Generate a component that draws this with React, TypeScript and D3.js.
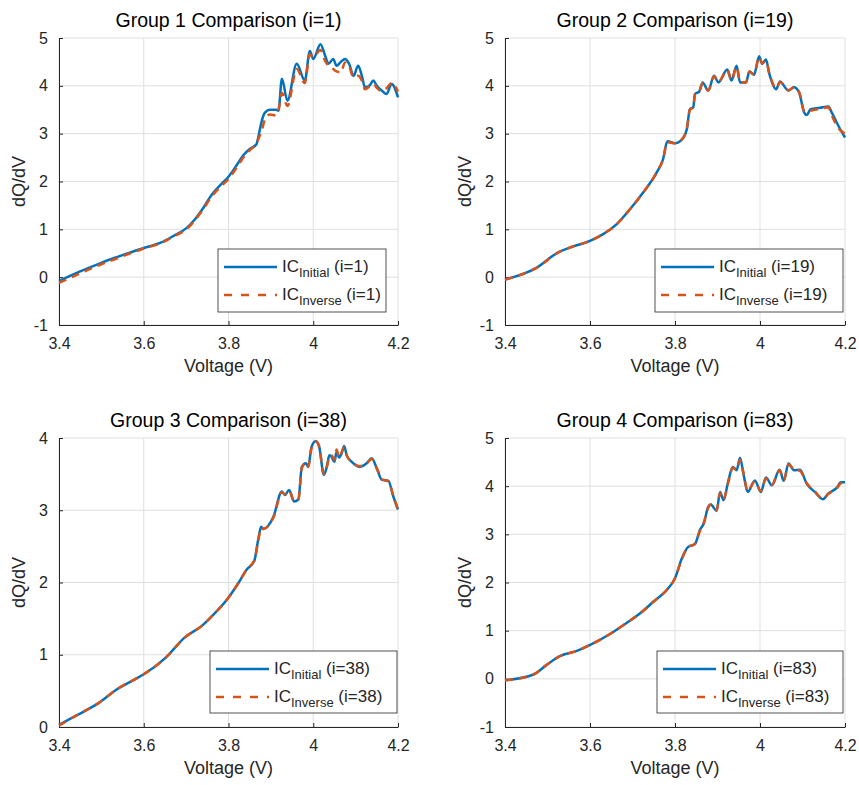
import React, { useEffect, useRef } from 'react';
import * as d3 from 'd3';

// digitised dQ/dV curves, one voltage grid per panel
const voltage1 = [3.40, 3.45, 3.50, 3.53, 3.56, 3.60, 3.64, 3.67, 3.70, 3.72, 3.74, 3.76, 3.78, 3.80, 3.82, 3.835, 3.85, 3.866, 3.872, 3.878, 3.886, 3.898, 3.912, 3.918, 3.926, 3.939, 3.961, 3.980, 3.992, 4.000, 4.017, 4.028, 4.036, 4.047, 4.055, 4.065, 4.075, 4.085, 4.095, 4.106, 4.115, 4.122, 4.132, 4.142, 4.150, 4.158, 4.173, 4.185, 4.200];
const initial1 = [-0.08, 0.12, 0.30, 0.40, 0.49, 0.61, 0.72, 0.86, 1.02, 1.20, 1.44, 1.72, 1.92, 2.10, 2.35, 2.55, 2.68, 2.78, 3.00, 3.25, 3.44, 3.50, 3.50, 3.48, 4.15, 3.69, 4.46, 4.11, 4.73, 4.56, 4.87, 4.63, 4.46, 4.56, 4.42, 4.50, 4.56, 4.45, 4.21, 4.42, 4.20, 3.97, 4.00, 4.11, 4.00, 3.93, 3.83, 4.04, 3.76];
const inverse1 = [-0.12, 0.08, 0.27, 0.37, 0.47, 0.60, 0.71, 0.85, 1.00, 1.18, 1.42, 1.68, 1.88, 2.05, 2.30, 2.50, 2.65, 2.80, 2.92, 3.05, 3.30, 3.40, 3.38, 3.50, 3.85, 3.58, 4.35, 4.06, 4.66, 4.60, 4.75, 4.52, 4.42, 4.35, 4.30, 4.28, 4.49, 4.40, 4.18, 4.21, 4.10, 3.93, 3.98, 4.04, 3.96, 3.90, 3.95, 4.06, 3.88];

const voltage2 = [3.40, 3.475, 3.525, 3.553, 3.60, 3.631, 3.663, 3.694, 3.725, 3.757, 3.772, 3.782, 3.80, 3.82, 3.828, 3.835, 3.843, 3.847, 3.857, 3.865, 3.878, 3.892, 3.902, 3.923, 3.933, 3.945, 3.953, 3.967, 3.975, 3.986, 3.998, 4.005, 4.014, 4.022, 4.038, 4.047, 4.067, 4.08, 4.092, 4.104, 4.11, 4.119, 4.141, 4.161, 4.169, 4.184, 4.20];
const initial2 = [-0.05, 0.20, 0.52, 0.62, 0.76, 0.90, 1.11, 1.42, 1.77, 2.19, 2.47, 2.84, 2.80, 2.92, 3.10, 3.51, 3.55, 3.83, 3.88, 4.07, 3.90, 4.21, 4.07, 4.34, 4.11, 4.42, 4.07, 4.07, 4.30, 4.23, 4.62, 4.46, 4.55, 4.25, 3.93, 4.09, 3.90, 3.97, 3.86, 3.44, 3.39, 3.51, 3.54, 3.57, 3.44, 3.17, 2.92];
const inverse2 = [-0.05, 0.20, 0.51, 0.62, 0.76, 0.90, 1.11, 1.42, 1.77, 2.19, 2.47, 2.82, 2.80, 2.92, 3.12, 3.50, 3.56, 3.82, 3.88, 4.05, 3.90, 4.20, 4.08, 4.33, 4.12, 4.40, 4.08, 4.07, 4.30, 4.24, 4.60, 4.47, 4.52, 4.26, 3.95, 4.08, 3.91, 3.97, 3.87, 3.47, 3.45, 3.48, 3.52, 3.55, 3.38, 3.12, 3.00];

const voltage3 = [3.40, 3.438, 3.493, 3.536, 3.579, 3.60, 3.65, 3.697, 3.737, 3.76, 3.796, 3.823, 3.843, 3.861, 3.870, 3.877, 3.882, 3.906, 3.926, 3.933, 3.943, 3.955, 3.965, 3.973, 3.983, 3.988, 3.996, 4.006, 4.014, 4.025, 4.032, 4.038, 4.043, 4.05, 4.055, 4.061, 4.067, 4.073, 4.079, 4.091, 4.11, 4.126, 4.138, 4.15, 4.162, 4.177, 4.189, 4.20];
const initial3 = [0.03, 0.15, 0.33, 0.52, 0.66, 0.73, 0.95, 1.24, 1.40, 1.53, 1.76, 1.99, 2.18, 2.30, 2.59, 2.77, 2.74, 2.91, 3.26, 3.21, 3.28, 3.12, 3.15, 3.60, 3.65, 3.60, 3.88, 3.96, 3.88, 3.49, 3.60, 3.76, 3.74, 3.67, 3.81, 3.73, 3.79, 3.89, 3.76, 3.67, 3.60, 3.65, 3.72, 3.58, 3.42, 3.41, 3.19, 3.01];
const inverse3 = [0.02, 0.15, 0.33, 0.52, 0.66, 0.73, 0.95, 1.24, 1.40, 1.53, 1.76, 1.99, 2.18, 2.31, 2.57, 2.76, 2.74, 2.90, 3.25, 3.22, 3.27, 3.13, 3.15, 3.58, 3.66, 3.60, 3.86, 3.95, 3.88, 3.50, 3.60, 3.74, 3.76, 3.70, 3.84, 3.73, 3.80, 3.87, 3.76, 3.67, 3.61, 3.65, 3.71, 3.58, 3.43, 3.40, 3.20, 3.00];

const voltage4 = [3.40, 3.467, 3.498, 3.529, 3.569, 3.604, 3.647, 3.686, 3.718, 3.749, 3.784, 3.80, 3.816, 3.831, 3.847, 3.859, 3.868, 3.878, 3.884, 3.898, 3.906, 3.914, 3.925, 3.936, 3.945, 3.953, 3.961, 3.971, 3.988, 4.002, 4.014, 4.028, 4.046, 4.056, 4.067, 4.08, 4.094, 4.11, 4.129, 4.148, 4.161, 4.181, 4.19, 4.20];
const initial4 = [-0.03, 0.09, 0.29, 0.47, 0.58, 0.72, 0.93, 1.16, 1.36, 1.60, 1.88, 2.09, 2.50, 2.74, 2.80, 3.10, 3.23, 3.57, 3.62, 3.49, 3.88, 3.71, 4.09, 4.40, 4.33, 4.59, 4.26, 3.88, 4.12, 3.88, 4.18, 4.02, 4.34, 4.11, 4.47, 4.33, 4.34, 4.05, 3.88, 3.73, 3.85, 3.97, 4.08, 4.08];
const inverse4 = [-0.03, 0.09, 0.29, 0.47, 0.58, 0.72, 0.93, 1.16, 1.36, 1.60, 1.88, 2.09, 2.48, 2.74, 2.80, 3.08, 3.25, 3.55, 3.62, 3.50, 3.86, 3.72, 4.07, 4.38, 4.34, 4.55, 4.28, 3.90, 4.10, 3.90, 4.16, 4.03, 4.33, 4.13, 4.45, 4.35, 4.32, 4.06, 3.89, 3.74, 3.84, 3.96, 4.06, 4.08];

const groupIndex = [1, 19, 38, 83];
const xTicks = [3.4, 3.6, 3.8, 4.0, 4.2];
const yTicksWide = [-1, 0, 1, 2, 3, 4, 5];
const yTicksNarrow = [0, 1, 2, 3, 4];

const FONT = "'Liberation Sans', Arial, Helvetica, sans-serif";
const BLUE = '#0072BD';
const ORANGE = '#D95319';
const AXIS = '#262626';

const panels = [
  { v: voltage1, a: initial1, b: inverse1, yTicks: yTicksWide, box: [59, 38, 398, 325], legend: [218, 249, 386, 312] },
  { v: voltage2, a: initial2, b: inverse2, yTicks: yTicksWide, box: [505, 38, 845, 325], legend: [655, 249, 843, 312] },
  { v: voltage3, a: initial3, b: inverse3, yTicks: yTicksNarrow, box: [59, 438, 398, 727], legend: [210, 651, 397, 713] },
  { v: voltage4, a: initial4, b: inverse4, yTicks: yTicksWide, box: [505, 438, 845, 727], legend: [657, 651, 843, 713] },
];

const App = () => {
  const svgRef = useRef<SVGSVGElement>(null);

  useEffect(() => {
    const svg = d3.select(svgRef.current);
    svg.selectAll('*').remove();

    panels.forEach((p, k) => {
      const [l, t, r, b] = p.box;
      const n = groupIndex[k];
      const x = d3.scaleLinear().domain([3.4, 4.2]).range([l, r]);
      const y = d3.scaleLinear().domain(d3.extent(p.yTicks) as [number, number]).range([b, t]);
      const g = svg.append('g');

      // grid
      g.append('g').selectAll('line').data(xTicks).enter().append('line')
        .attr('x1', d => x(d)).attr('x2', d => x(d)).attr('y1', t).attr('y2', b)
        .attr('stroke', '#dfdfdf').attr('stroke-width', 1);
      g.append('g').selectAll('line').data(p.yTicks).enter().append('line')
        .attr('x1', l).attr('x2', r).attr('y1', d => y(d)).attr('y2', d => y(d))
        .attr('stroke', '#dfdfdf').attr('stroke-width', 1);

      // axes (MATLAB style: inward ticks, no box)
      const xAxis = g.append('g').attr('transform', `translate(0,${b})`)
        .call(d3.axisBottom(x).tickValues(xTicks).tickSizeInner(-4).tickSizeOuter(0).tickPadding(13)
          .tickFormat(d => d3.format('')(+d)));
      const yAxis = g.append('g').attr('transform', `translate(${l},0)`)
        .call(d3.axisLeft(y).tickValues(p.yTicks).tickSizeInner(-4).tickSizeOuter(0).tickPadding(11)
          .tickFormat(d => String(d)));
      [xAxis, yAxis].forEach(ax => {
        ax.select('.domain').attr('stroke', AXIS).attr('stroke-width', 1);
        ax.selectAll('.tick line').attr('stroke', AXIS);
        ax.selectAll('.tick text').attr('fill', AXIS).attr('font-size', 16).attr('font-family', FONT);
      });

      // curves
      const line = d3.line<number>()
        .x((_, i) => x(p.v[i]))
        .y(d => y(d))
        .curve(d3.curveMonotoneX);
      g.append('path').attr('d', line(p.a)).attr('fill', 'none')
        .attr('stroke', BLUE).attr('stroke-width', 2.5).attr('stroke-linejoin', 'round');
      g.append('path').attr('d', line(p.b)).attr('fill', 'none')
        .attr('stroke', ORANGE).attr('stroke-width', 2.5).attr('stroke-dasharray', '8,6');

      // labels
      g.append('text').attr('x', (l + r) / 2).attr('y', t - 11).attr('text-anchor', 'middle')
        .attr('font-size', 19.5).attr('font-family', FONT).attr('fill', '#000')
        .text(`Group ${k + 1} Comparison (i=${n})`);
      g.append('text').attr('x', (l + r) / 2).attr('y', b + 47).attr('text-anchor', 'middle')
        .attr('font-size', 18).attr('font-family', FONT).attr('fill', AXIS)
        .text('Voltage (V)');
      g.append('text').attr('transform', `translate(${l - 34},${(t + b) / 2}) rotate(-90)`)
        .attr('text-anchor', 'middle').attr('font-size', 18).attr('font-family', FONT).attr('fill', AXIS)
        .text('dQ/dV');

      // legend
      const [lx0, ly0, lx1, ly1] = p.legend;
      const lg = g.append('g');
      lg.append('rect').attr('x', lx0).attr('y', ly0).attr('width', lx1 - lx0).attr('height', ly1 - ly0)
        .attr('fill', '#fff').attr('stroke', AXIS).attr('stroke-width', 0.8);
      [
        { sub: 'Initial', color: BLUE, dash: null },
        { sub: 'Inverse', color: ORANGE, dash: '8,9' },
      ].forEach((item, j) => {
        const cy = ly0 + 18 + j * 28;
        lg.append('line').attr('x1', lx0 + 6).attr('x2', lx0 + 59).attr('y1', cy).attr('y2', cy)
          .attr('stroke', item.color).attr('stroke-width', 2.5)
          .attr('stroke-dasharray', item.dash);
        const tx = lg.append('text').attr('x', lx0 + 64).attr('y', cy + 5)
          .attr('font-family', FONT).attr('font-size', 17).attr('fill', AXIS);
        tx.append('tspan').text('IC');
        tx.append('tspan').attr('font-size', 13).attr('dy', 5).text(item.sub);
        tx.append('tspan').attr('dy', -5).text(` (i=${n})`);
      });
    });
  }, []);

  return (
    <svg ref={svgRef} width={859} height={785}
      style={{ position: 'absolute', left: 0, top: 0, background: '#fff' }} />
  );
};

export default App;
